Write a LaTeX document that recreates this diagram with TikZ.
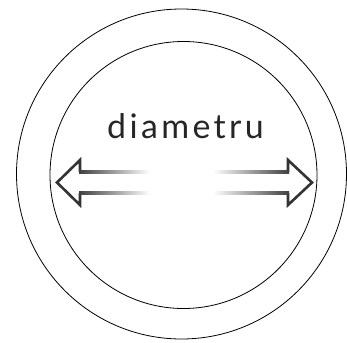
\documentclass[tikz,border=0pt]{standalone}
\usepackage{fontspec}
\setmainfont{Lato}
\usepackage{tikz}
\usetikzlibrary{positioning}

\begin{document}
\begin{tikzpicture}[
    x=1bp, y=-1bp,
    ring/.style={draw=black, line width=0.8bp},
    arrhead/.style={draw=black!80, line width=2.6bp, line join=miter},
    shaft/.style={draw=none},
    lbl/.style={font=\addfontfeatures{LetterSpace=10}\fontsize{34}{34}\selectfont,
      text=black!85, anchor=base, inner sep=0pt}
  ]
  \useasboundingbox (0,0) rectangle (347,343);

  % the two rings
  \draw[ring] (181.5,174) circle[radius=165];
  \draw[ring] (183.5,175) circle[radius=133.5];

  % label
  \node[lbl] (diam) at (185.5,138) {diametru};

  % left arrow
  \draw[arrhead] (80,172) -- (80,160) -- (57,182.5) -- (80,205) -- (80,193);
  \shade[shaft, left color=black!75, right color=white] (79,170.7) rectangle (150,173.3);
  \shade[shaft, left color=black!75, right color=white] (79,191.7) rectangle (150,194.3);

  % right arrow
  \draw[arrhead] (288,172) -- (288,160) -- (312,182.5) -- (288,205) -- (288,193);
  \shade[shaft, left color=white, right color=black!75] (213,170.7) rectangle (289,173.3);
  \shade[shaft, left color=white, right color=black!75] (213,191.7) rectangle (289,194.3);

\end{tikzpicture}
\end{document}
